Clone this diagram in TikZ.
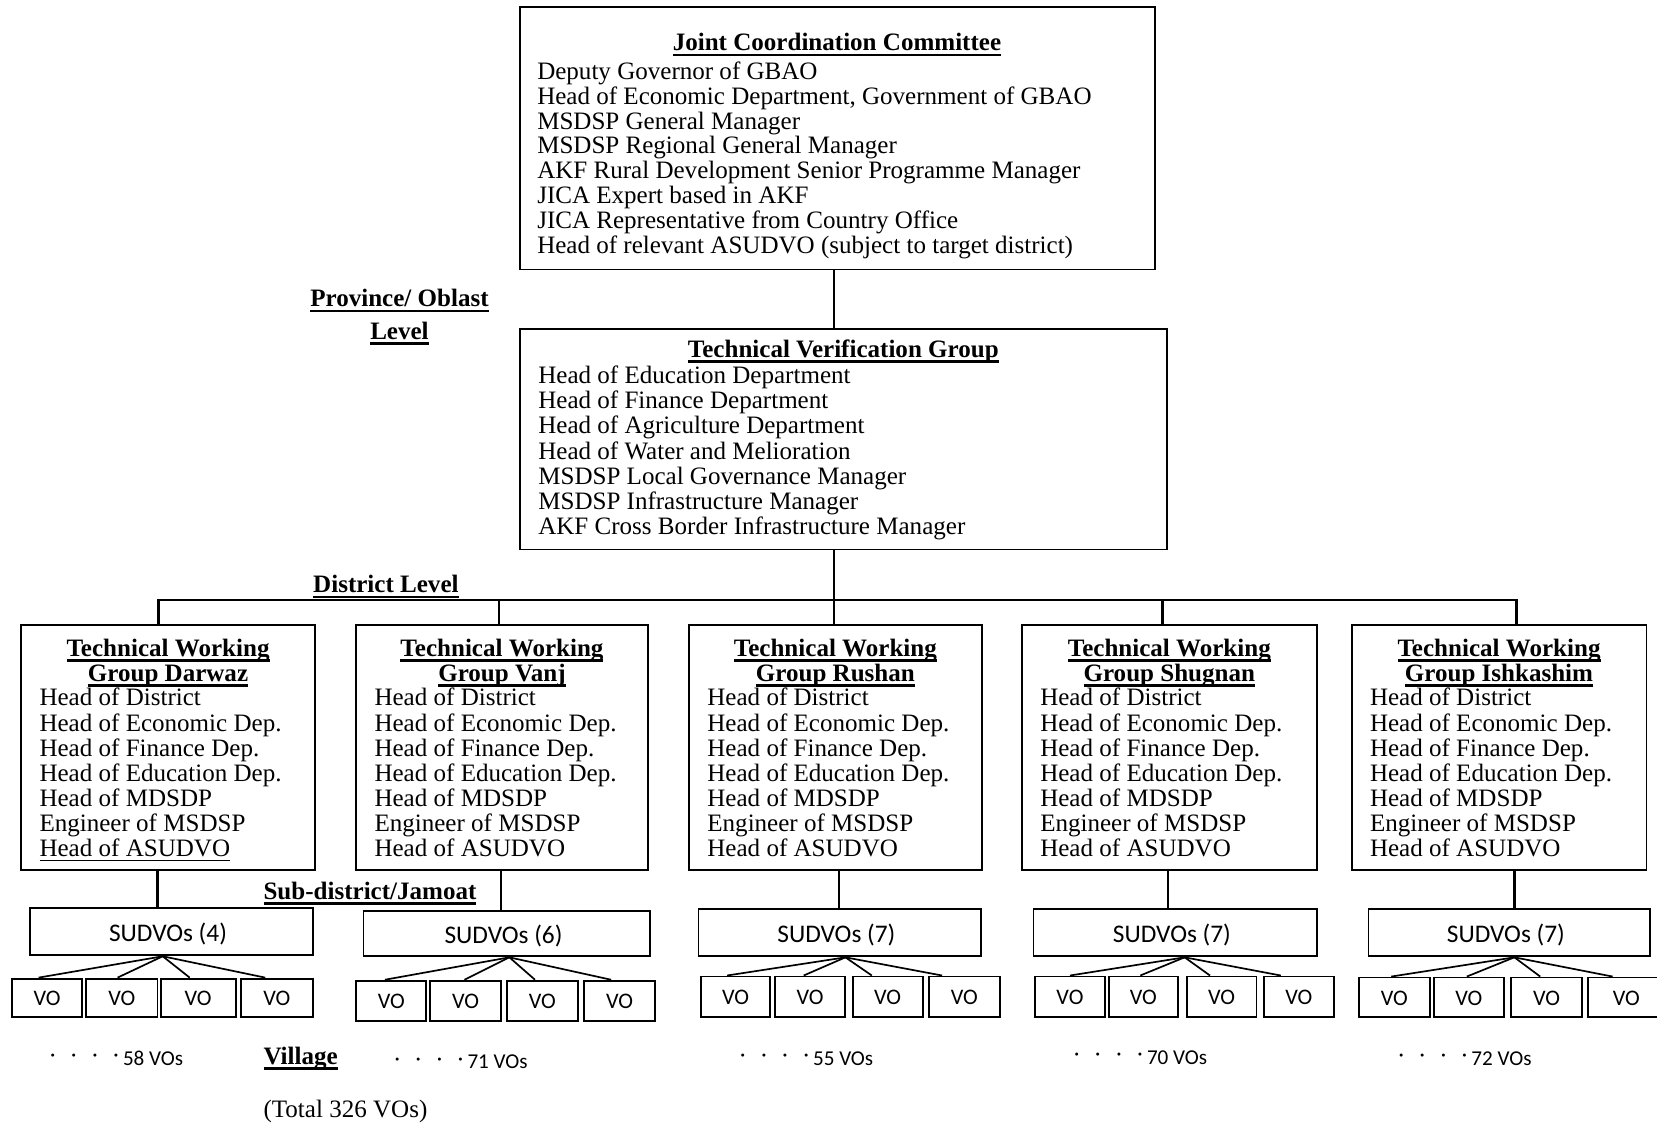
\documentclass[tikz,border=0pt]{standalone}
\usepackage{fontspec}
\setmainfont{Liberation Serif}
\newfontfamily\calibfont{Carlito}
\usetikzlibrary{fit,calc}
\newcommand\ulbf[1]{\setbox0=\hbox{\bfseries #1}\rlap{\rule[-2.6pt]{\wd0}{1.1pt}}\box0}
\newcommand\ulrm[1]{\setbox0=\hbox{#1}\rlap{\rule[-1.9pt]{\wd0}{0.6pt}}\box0}
\newcommand\onedot[1]{\makebox[#1][l]{\raisebox{1.6pt}{·}}}
\newcommand\dotrow{\onedot{10pt}\onedot{10pt}\onedot{10pt}\onedot{4.5pt}}
\newcommand\twgbox[5]{%
  \node[box, fit={(#2,591) (#3,823)}] (twg#1) {};
  \node[txt, anchor=base] (twg#1t) at ({(#2+#3)/2},621) {\begin{tabular}[t]{@{}c@{}}\ulbf{Technical Working}\\ \ulbf{Group #4}\end{tabular}};
  \node[txt, anchor=base west] (twg#1i) at ({#2+17},668) {\begin{tabular}[t]{@{}l@{}}Head of District\\ Head of Economic Dep.\\ Head of Finance Dep.\\ Head of Education Dep.\\ Head of MDSDP\\ Engineer of MSDSP\\ #5\end{tabular}};
}
\begin{document}
\begin{tikzpicture}[x=0.5pt,y=-0.5pt,
  box/.style={draw, line width=0.9pt, inner sep=0pt},
  conn/.style={line width=1.1pt},
  fan/.style={line width=0.8pt},
  txt/.style={inner sep=0pt, font=\fontsize{11.85pt}{11.85pt}\selectfont},
  lbl/.style={inner sep=0pt, font=\fontsize{11.85pt}{11.85pt}\selectfont\bfseries},
  sudtxt/.style={inner sep=0pt, font=\calibfont\fontsize{12pt}{14pt}\selectfont},
  votxt/.style={inner sep=0pt, font=\calibfont\fontsize{10.5pt}{12pt}\selectfont},
  cnt/.style={inner sep=0pt, font=\calibfont\fontsize{10pt}{12pt}\selectfont}]
\useasboundingbox (0,0) rectangle (1568,1062);

% ---- Joint Coordination Committee
\node[box, fit={(492,7) (1093,255)}] (jcc) {};
\node[txt, anchor=base] (jcct) at (792,48) {\ulbf{Joint Coordination Committee}};
\node[txt, anchor=base west, font=\fontsize{11.85pt}{11.66pt}\selectfont] (jcci) at (508,75) {\begin{tabular}[t]{@{}l@{}}Deputy Governor of GBAO\\ Head of Economic Department, Government of GBAO\\ MSDSP General Manager\\ MSDSP Regional General Manager\\ AKF Rural Development Senior Programme Manager\\ JICA Expert based in AKF\\ JICA Representative from Country Office\\ Head of relevant ASUDVO (subject to target district)\end{tabular}};

% ---- Technical Verification Group
\node[box, fit={(492,311) (1104,520)}] (tvg) {};
\node[txt, anchor=base] (tvgt) at (798,338) {\ulbf{Technical Verification Group}};
\node[txt, anchor=base west, font=\fontsize{11.85pt}{11.83pt}\selectfont] (tvgi) at (509,363) {\begin{tabular}[t]{@{}l@{}}Head of Education Department\\ Head of Finance Department\\ Head of Agriculture Department\\ Head of Water and Melioration\\ MSDSP Local Governance Manager\\ MSDSP Infrastructure Manager\\ AKF Cross Border Infrastructure Manager\end{tabular}};

% ---- level labels
\node[lbl, anchor=base] (prov1) at (378,290) {\ulbf{Province/ Oblast}};
\node[lbl, anchor=base] (prov2) at (378,321) {\ulbf{Level}};
\node[lbl, anchor=base west] (dist) at (296,561) {\ulbf{District Level}};
\node[lbl, anchor=base west] (subd) at (249,851) {\ulbf{Sub-district/Jamoat}};
\node[lbl, anchor=base west] (vill) at (249,1007) {\ulbf{Village}};
\node[txt, anchor=base west] (total) at (249,1057) {(Total 326 VOs)};

% ---- Technical Working Groups
\twgbox{1}{20}{298}{Darwaz}{\ulrm{Head of ASUDVO}}
\twgbox{2}{337}{613}{Vanj}{Head of ASUDVO}
\twgbox{3}{652}{929}{Rushan}{Head of ASUDVO}
\twgbox{4}{967}{1246}{Shugnan}{Head of ASUDVO}
\twgbox{5}{1279}{1558}{Ishkashim}{Head of ASUDVO}

% ---- SUDVOs
\node[box, fit={(28,859) (296,904)}] (s1) {};
\node[box, fit={(344,862) (615,905)}] (s2) {};
\node[box, fit={(661,860) (928,905)}] (s3) {};
\node[box, fit={(978,860) (1246,905)}] (s4) {};
\node[box, fit={(1295,860) (1561,905)}] (s5) {};
\node[sudtxt] (s1l) at ($(s1.center)+(-3,2)$) {SUDVOs (4)};
\node[sudtxt] (s2l) at ($(s2.center)+(-3,2)$) {SUDVOs (6)};
\node[sudtxt] (s3l) at ($(s3.center)+(-3,2)$) {SUDVOs (7)};
\node[sudtxt] (s4l) at ($(s4.center)+(-3,2)$) {SUDVOs (7)};
\node[sudtxt] (s5l) at ($(s5.center)+(-3,2)$) {SUDVOs (7)};

% ---- VOs
\node[box, fit={(11,926) (78,962)}] (v11) {};
\node[box, fit={(81.5,926) (149,962)}] (v12) {};
\node[box, fit={(152,926) (223,962)}] (v13) {};
\node[box, fit={(228,926) (296,962)}] (v14) {};
\node[box, fit={(337,928) (403.5,966)}] (v21) {};
\node[box, fit={(407,928) (474,966)}] (v22) {};
\node[box, fit={(479.5,928) (547,966)}] (v23) {};
\node[box, fit={(552.6,928) (620,966)}] (v24) {};
\node[box, fit={(663,924) (729,962)}] (v31) {};
\node[box, fit={(733,924) (800,962)}] (v32) {};
\node[box, fit={(807,924) (873,962)}] (v33) {};
\node[box, fit={(879,924) (946,962)}] (v34) {};
\node[box, fit={(979,924) (1046,962)}] (v41) {};
\node[box, fit={(1049,924) (1115,962)}] (v42) {};
\node[box, fit={(1123,924) (1189,962)}] (v43) {};
\node[box, fit={(1196,924) (1262,962)}] (v44) {};
\node[box, fit={(1286,925) (1353,962)}] (v51) {};
\node[box, fit={(1357,925) (1423,962)}] (v52) {};
\node[box, fit={(1430,925) (1497,962)}] (v53) {};
\node[box, fit={(1503,925) (1575,962)}] (v54) {};
\foreach \g in {1,...,5}{
  \foreach \j in {1,...,4}{
    \node[votxt] (v\g\j l) at ($(v\g\j.center)+(0,1)$) {VO};
  }
}

% ---- counts
\node[cnt, anchor=base west] (n1) at (47,1008) {\dotrow 58 VOs};
\node[cnt, anchor=base west] (n2) at (373,1011) {\dotrow 71 VOs};
\node[cnt, anchor=base west] (n3) at (700,1008) {\dotrow 55 VOs};
\node[cnt, anchor=base west] (n4) at (1016,1007) {\dotrow 70 VOs};
\node[cnt, anchor=base west] (n5) at (1323,1008) {\dotrow 72 VOs};

% ---- connectors
\coordinate (spine) at (789,568);
\coordinate (d1) at (150,568);
\coordinate (d2) at (472,568);
\coordinate (d4) at (1100,568);
\coordinate (d5) at (1435,568);
\draw[conn] (jcc.south -| spine) -- (tvg.north -| spine);
\draw[conn] (tvg.south -| spine) -- (spine);
\draw[conn] (twg1.north -| d1) -- (d1) -- (d5) -- (twg5.north -| d5);
\draw[conn] (d2) -- (twg2.north -| d2);
\draw[conn] (spine) -- (twg3.north -| spine);
\draw[conn] (d4) -- (twg4.north -| d4);

\coordinate (c1) at (149,0);
\coordinate (c2) at (474,0);
\coordinate (c3) at (794,0);
\coordinate (c4) at (1105,0);
\coordinate (c5) at (1433,0);
\foreach \i in {1,...,5} \draw[conn] (twg\i.south -| c\i) -- (s\i.north -| c\i);

\coordinate (f1) at (154,0);
\coordinate (f2) at (482,0);
\coordinate (f3) at (800,0);
\coordinate (f4) at (1121,0);
\coordinate (f5) at (1433,0);
\foreach \j/\o in {1/-8,2/-4,3/-8,4/-11} \draw[fan] (s1.south -| f1) -- ($(v1\j.north)+(\o,0)$);
\foreach \j/\o in {1/-6,2/-1,3/-7,4/-8} \draw[fan] (s2.south -| f2) -- ($(v2\j.north)+(\o,0)$);
\foreach \j/\o in {1/-8,2/-6,3/-15,4/-21} \draw[fan] (s3.south -| f3) -- ($(v3\j.north)+(\o,0)$);
\foreach \j/\o in {1/0,2/-3,3/-11,4/-17} \draw[fan] (s4.south -| f4) -- ($(v4\j.north)+(\o,0)$);
\foreach \j/\o in {1/-3,2/-2,3/-6,4/-13} \draw[fan] (s5.south -| f5) -- ($(v5\j.north)+(\o,0)$);
\end{tikzpicture}
\end{document}
